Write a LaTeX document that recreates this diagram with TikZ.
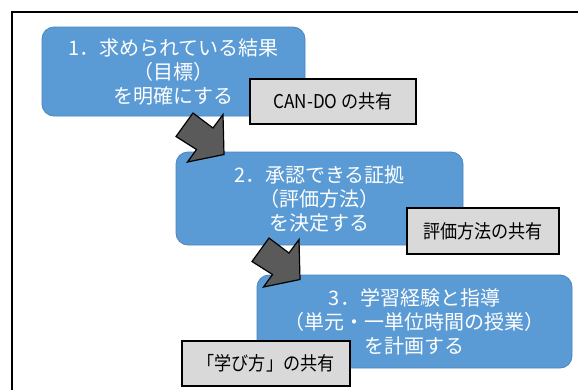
\documentclass[tikz,border=0pt]{standalone}
\usepackage{fontspec}
\usepackage{graphicx}
\newfontfamily\jp{Noto Sans CJK JP}
\definecolor{boxblue}{HTML}{5B9BD5}
\definecolor{boxedge}{HTML}{4A85BE}
\definecolor{boxgray}{HTML}{D9D9D9}
\definecolor{arrowgray}{HTML}{5A5A5A}
\newcommand{\narrow}[1]{\scalebox{0.9}[1]{#1}}
\begin{document}
\begin{tikzpicture}[x=1pt,y=-1pt,
  bluebox/.style={draw=boxedge, line width=0.8pt, fill=boxblue, rounded corners=12pt,
    text=white, align=center, font=\jp\fontsize{20}{24}\selectfont, inner sep=0pt},
  graybox/.style={draw=black, line width=1.6pt, fill=boxgray, text=black,
    font=\jp\fontsize{19}{20}\selectfont, inner sep=0pt},
  blockarrow/.style={draw=black, line width=1.2pt, fill=arrowgray, line join=miter}]
\useasboundingbox (0,0) rectangle (578,389);
\fill[white] (0,0) rectangle (578,389);
% frame
\draw[line width=2pt] (11.5,395) -- (11.5,11.5) -- (585,11.5);
% main steps
\node[bluebox, minimum width=263pt, minimum height=89pt] (s1) at (173.5,71.5)
  {1．求められている結果\\（目標）\\を明確にする};
\node[bluebox, minimum width=287pt, minimum height=93pt] (s2) at (319.5,198.5)
  {2．承認できる証拠\\（評価方法）\\を決定する};
\node[bluebox, minimum width=315pt, minimum height=93pt] (s3) at (414.5,321.5)
  {3．学習経験と指導\\（単元・一単位時間の授業）\\を計画する};
% block arrows
\coordinate (a1) at (193,113);
\coordinate (a2) at (269,238);
\foreach \p in {a1,a2}{
  \draw[blockarrow, shift={(\p)}] (0,0) -- (20,15) -- (30,1.5) -- (31,41.5)
    -- (-5.5,49) -- (3.5,36.5) -- (-17,23.5) -- cycle;
}
% shared items
\node[graybox, minimum width=166pt, minimum height=45pt] (g1) at (333,101.5)
  {\narrow{CAN-DO の共有}};
\node[graybox, minimum width=152pt, minimum height=46pt] (g2) at (483,231)
  {\narrow{評価方法の共有}};
\node[graybox, minimum width=168pt, minimum height=45pt] (g3) at (266,363.5)
  {\narrow{「学び方」の共有}};
\end{tikzpicture}
\end{document}
